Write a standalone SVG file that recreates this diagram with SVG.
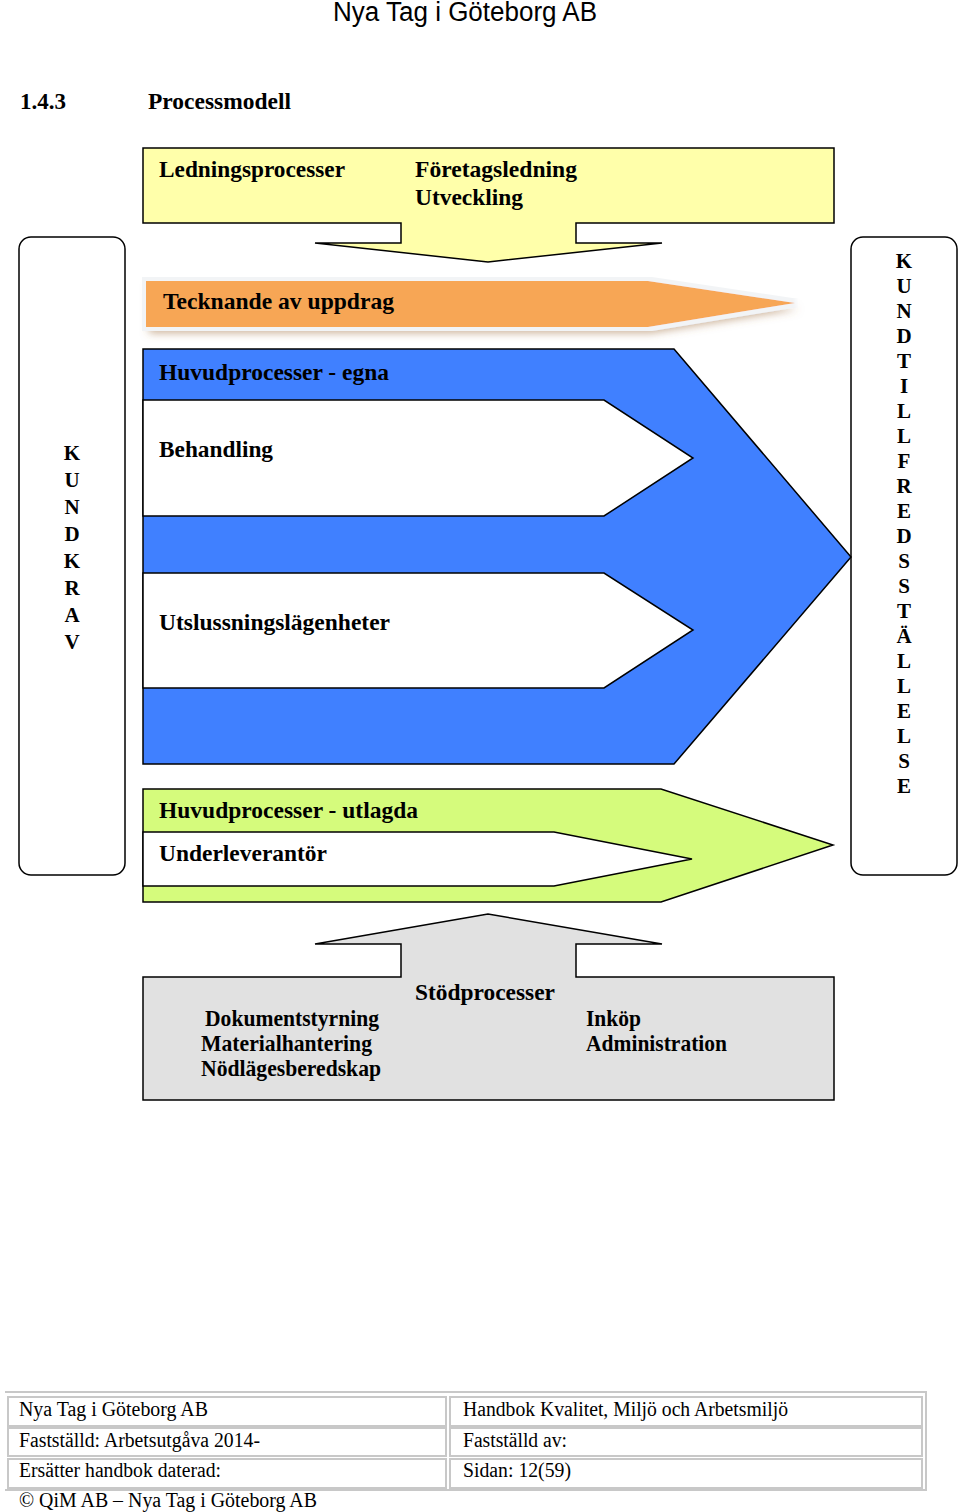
<svg xmlns="http://www.w3.org/2000/svg" width="960" height="1512" viewBox="0 0 960 1512">
<defs>
<style>
.h{font-family:"Liberation Serif","Times New Roman",serif;font-weight:bold;font-size:23px;fill:#000}
.v{font-family:"Liberation Serif","Times New Roman",serif;font-weight:bold;font-size:21px;fill:#000;text-anchor:middle}
.f{font-family:"Liberation Serif","Times New Roman",serif;font-size:20px;fill:#000}
.o{stroke:#000;stroke-width:1.5;stroke-linejoin:miter}
.tb{fill:none;stroke:#c8c8c8;stroke-width:2}
</style>
<filter id="glow" x="-5%" y="-40%" width="115%" height="200%">
<feMorphology in="SourceAlpha" operator="dilate" radius="4" result="d"/>
<feFlood flood-color="#f2f4f6"/>
<feComposite in2="d" operator="in" result="w"/>
<feGaussianBlur in="SourceAlpha" stdDeviation="4" result="b"/>
<feOffset in="b" dx="3" dy="6" result="ob"/>
<feFlood flood-color="#a07040" flood-opacity="0.55"/>
<feComposite in2="ob" operator="in" result="sh"/>
<feMerge><feMergeNode in="sh"/><feMergeNode in="w"/><feMergeNode in="SourceGraphic"/></feMerge>
</filter>
</defs>
<rect width="960" height="1512" fill="#fff"/>

<text x="465" y="21" text-anchor="middle" font-family="Liberation Sans, Arial, sans-serif" font-size="27" textLength="264" lengthAdjust="spacingAndGlyphs">Nya Tag i Göteborg AB</text>
<text class="h" x="20" y="109" textLength="46" lengthAdjust="spacingAndGlyphs">1.4.3</text>
<text class="h" x="148" y="109" textLength="143" lengthAdjust="spacingAndGlyphs">Processmodell</text>

<g id="ledning">
<path class="o" fill="#FFFFAA" d="M143,148 H834 V223 H576 V243 H662 L488,262 L315,243 H401 V223 H143 Z"/>
<text class="h" x="159" y="177" textLength="186" lengthAdjust="spacingAndGlyphs">Ledningsprocesser</text>
<text class="h" x="415" y="177" textLength="162" lengthAdjust="spacingAndGlyphs">Företagsledning</text>
<text class="h" x="415" y="205" textLength="108" lengthAdjust="spacingAndGlyphs">Utveckling</text>
</g>

<g id="kundkrav">
<rect class="o" x="19" y="237" width="106" height="638" rx="12" fill="#fff"/>
<text class="v" x="72" y="460">K</text>
<text class="v" x="72" y="487">U</text>
<text class="v" x="72" y="514">N</text>
<text class="v" x="72" y="541">D</text>
<text class="v" x="72" y="568">K</text>
<text class="v" x="72" y="595">R</text>
<text class="v" x="72" y="622">A</text>
<text class="v" x="72" y="649">V</text>
</g>

<g id="kundtillfredsstallelse">
<rect class="o" x="851" y="237" width="106" height="638" rx="12" fill="#fff"/>
<text class="v" x="904" y="268">K</text>
<text class="v" x="904" y="293">U</text>
<text class="v" x="904" y="318">N</text>
<text class="v" x="904" y="343">D</text>
<text class="v" x="904" y="368">T</text>
<text class="v" x="904" y="393">I</text>
<text class="v" x="904" y="418">L</text>
<text class="v" x="904" y="443">L</text>
<text class="v" x="904" y="468">F</text>
<text class="v" x="904" y="493">R</text>
<text class="v" x="904" y="518">E</text>
<text class="v" x="904" y="543">D</text>
<text class="v" x="904" y="568">S</text>
<text class="v" x="904" y="593">S</text>
<text class="v" x="904" y="618">T</text>
<text class="v" x="904" y="643">Ä</text>
<text class="v" x="904" y="668">L</text>
<text class="v" x="904" y="693">L</text>
<text class="v" x="904" y="718">E</text>
<text class="v" x="904" y="743">L</text>
<text class="v" x="904" y="768">S</text>
<text class="v" x="904" y="793">E</text>
</g>

<g id="tecknande">
<path fill="#F7A654" filter="url(#glow)" d="M146,281 H648 L795,303 L648,327 H146 Z"/>
<text class="h" x="163" y="309" textLength="231" lengthAdjust="spacingAndGlyphs">Tecknande av uppdrag</text>
</g>

<g id="huvud-egna">
<path class="o" fill="#4080FF" d="M143,349 H674 L851,557 L674,764 H143 Z"/>
<path class="o" fill="#fff" d="M143,400 H604 L693,458 L604,516 H143 Z"/>
<path class="o" fill="#fff" d="M143,573 H604 L693,630 L604,688 H143 Z"/>
<text class="h" x="159" y="380" textLength="230" lengthAdjust="spacingAndGlyphs">Huvudprocesser - egna</text>
<text class="h" x="159" y="457" textLength="114" lengthAdjust="spacingAndGlyphs">Behandling</text>
<text class="h" x="159" y="630" textLength="231" lengthAdjust="spacingAndGlyphs">Utslussningslägenheter</text>
</g>

<g id="huvud-utlagda">
<path class="o" fill="#D5FB7C" d="M143,789 H661 L833,845 L661,902 H143 Z"/>
<path class="o" fill="#fff" d="M143,832 H554 L692,859 L554,886 H143 Z"/>
<text class="h" x="159" y="818" textLength="259" lengthAdjust="spacingAndGlyphs">Huvudprocesser - utlagda</text>
<text class="h" x="159" y="861" textLength="168" lengthAdjust="spacingAndGlyphs">Underleverantör</text>
</g>

<g id="stod">
<path class="o" fill="#E1E1E1" d="M143,977 H401 V944 H315 L488,914 L662,944 H576 V977 H834 V1100 H143 Z"/>
<text class="h" x="415" y="1000" textLength="140" lengthAdjust="spacingAndGlyphs">Stödprocesser</text>
<text class="h" x="205" y="1026" font-size="21" textLength="174" lengthAdjust="spacingAndGlyphs">Dokumentstyrning</text>
<text class="h" x="201" y="1051" font-size="21" textLength="171" lengthAdjust="spacingAndGlyphs">Materialhantering</text>
<text class="h" x="201" y="1076" font-size="21" textLength="180" lengthAdjust="spacingAndGlyphs">Nödlägesberedskap</text>
<text class="h" x="586" y="1026" font-size="21" textLength="55" lengthAdjust="spacingAndGlyphs">Inköp</text>
<text class="h" x="586" y="1051" font-size="21" textLength="141" lengthAdjust="spacingAndGlyphs">Administration</text>
</g>

<g id="footer">
<path class="tb" d="M5,1392 H926 V1490 H5"/>
<rect class="tb" x="8" y="1397" width="438" height="29"/>
<rect class="tb" x="8" y="1428" width="438" height="28"/>
<rect class="tb" x="8" y="1459" width="438" height="29"/>
<rect class="tb" x="450" y="1397" width="472" height="29"/>
<rect class="tb" x="450" y="1428" width="472" height="28"/>
<rect class="tb" x="450" y="1459" width="472" height="29"/>
<text class="f" x="19" y="1416" textLength="189" lengthAdjust="spacingAndGlyphs">Nya Tag i Göteborg AB</text>
<text class="f" x="463" y="1416" textLength="325" lengthAdjust="spacingAndGlyphs">Handbok Kvalitet, Miljö och Arbetsmiljö</text>
<text class="f" x="19" y="1447" textLength="241" lengthAdjust="spacingAndGlyphs">Fastställd: Arbetsutgåva 2014-</text>
<text class="f" x="463" y="1447" textLength="104" lengthAdjust="spacingAndGlyphs">Fastställd av:</text>
<text class="f" x="19" y="1477" textLength="202" lengthAdjust="spacingAndGlyphs">Ersätter handbok daterad:</text>
<text class="f" x="463" y="1477" textLength="108" lengthAdjust="spacingAndGlyphs">Sidan: 12(59)</text>
<text class="f" x="19" y="1507" textLength="298" lengthAdjust="spacingAndGlyphs">© QiM AB – Nya Tag i Göteborg AB</text>
</g>
</svg>
